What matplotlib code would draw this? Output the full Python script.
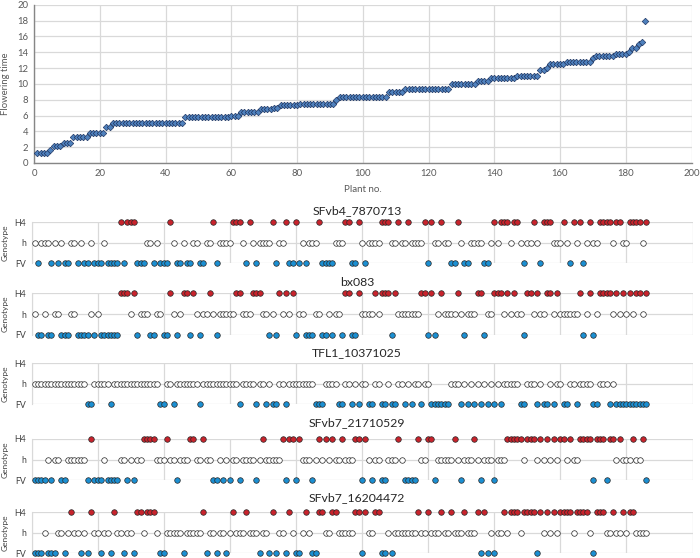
import matplotlib
matplotlib.use('Agg')
import matplotlib.pyplot as plt
import numpy as np

plt.rcParams['font.family'] = ['Lato', 'DejaVu Sans']

# ---------------- data ----------------
flowering_time = [
    1.3, 1.3, 1.3, 1.3, 1.7, 2.1, 2.1, 2.1, 2.5, 2.5,
    2.5, 3.3, 3.3, 3.3, 3.3, 3.3, 3.8, 3.8, 3.8, 3.8,
    3.8, 4.5, 4.5, 5.0, 5.0, 5.0, 5.0, 5.0, 5.0, 5.0,
    5.0, 5.0, 5.0, 5.0, 5.0, 5.0, 5.0, 5.0, 5.0, 5.0,
    5.0, 5.0, 5.0, 5.0, 5.0, 5.8, 5.8, 5.8, 5.8, 5.8,
    5.8, 5.8, 5.8, 5.8, 5.8, 5.8, 5.8, 5.8, 5.8, 6.0,
    6.0, 6.0, 6.5, 6.5, 6.5, 6.5, 6.5, 6.5, 6.8, 6.8,
    6.8, 6.8, 7.0, 7.0, 7.3, 7.3, 7.3, 7.3, 7.3, 7.3,
    7.5, 7.5, 7.5, 7.5, 7.5, 7.5, 7.5, 7.5, 7.5, 7.5,
    7.5, 8.0, 8.3, 8.3, 8.3, 8.3, 8.3, 8.3, 8.3, 8.3,
    8.3, 8.3, 8.3, 8.3, 8.3, 8.3, 8.3, 9.0, 9.0, 9.0,
    9.0, 9.0, 9.3, 9.3, 9.3, 9.3, 9.3, 9.3, 9.3, 9.3,
    9.3, 9.3, 9.3, 9.3, 9.3, 9.4, 10.0, 10.0, 10.0, 10.0,
    10.0, 10.0, 10.0, 10.0, 10.3, 10.3, 10.3, 10.3, 10.7, 10.7,
    10.7, 10.7, 10.7, 10.8, 10.8, 10.8, 11.0, 11.0, 11.0, 11.0,
    11.0, 11.0, 11.0, 11.8, 11.8, 12.0, 12.5, 12.5, 12.5, 12.5,
    12.5, 12.8, 12.8, 12.8, 12.8, 12.8, 12.8, 12.8, 12.8, 13.3,
    13.5, 13.5, 13.5, 13.5, 13.5, 13.5, 13.8, 13.8, 13.8, 13.8,
    14.0, 14.5, 14.5, 15.0, 15.3, 18.0,
]

marker_names = ['SFvb4_7870713', 'bx083', 'TFL1_10371025',
                'SFvb7_21710529', 'SFvb7_16204472']
genotype_labels = ['FV', 'h', 'H4']

# plants (1-based) carrying H4 / FV genotype; all other plants are h
sfvb4_h4 = [27, 29, 30, 31, 42, 55, 61, 62, 63, 66, 73, 77, 80, 87, 95, 96, 99,
            106, 107, 108, 111, 114, 119, 121, 124, 129, 140, 142, 143, 144,
            146, 147, 152, 155, 156, 157, 161, 164, 166, 169, 172, 173, 174,
            175, 177, 178, 181, 182, 183, 184, 186]
sfvb4_fv = [2, 6, 8, 10, 11, 14, 16, 17, 19, 20, 21, 23, 24, 25, 26, 28, 32,
            33, 34, 37, 39, 40, 41, 44, 45, 47, 48, 51, 52, 56, 65, 68, 74, 78,
            79, 81, 83, 88, 89, 90, 91, 97, 98, 101, 120, 127, 128, 131, 132,
            137, 138, 149, 154, 163, 167]

bx083_h4 = [27, 28, 29, 31, 42, 46, 47, 49, 54, 62, 63, 67, 68, 69, 75, 77, 79,
            95, 96, 99, 104, 106, 107, 108, 110, 118, 119, 121, 124, 129, 135,
            136, 140, 141, 142, 144, 146, 150, 151, 153, 156, 157, 159, 166,
            169, 172, 173, 174, 175, 177, 179, 181, 183, 184, 186]
bx083_fv = [2, 3, 5, 6, 9, 10, 11, 14, 15, 16, 17, 19, 21, 22, 23, 24, 25, 26,
            32, 36, 37, 40, 41, 44, 48, 51, 56, 72, 74, 80, 83, 84, 85, 88, 89,
            91, 94, 97, 98, 109, 120, 122, 131, 137, 149, 167, 170]

tfl1_h4 = []
tfl1_fv = [17, 18, 24, 39, 40, 43, 51, 63, 68, 71, 73, 74, 77, 86, 87, 88, 93,
           94, 97, 99, 102, 103, 106, 107, 109, 110, 113, 115, 118, 121, 122,
           123, 124, 125, 126, 130, 132, 134, 136, 138, 140, 142, 148, 149,
           153, 155, 156, 158, 161, 162, 165, 170, 171, 175, 177, 178, 179,
           180, 181, 182, 183, 184, 185, 186]

sfvb7a_h4 = [18, 34, 35, 36, 37, 41, 48, 49, 52, 70, 76, 78, 79, 81, 87, 89,
             91, 94, 98, 99, 101, 111, 117, 120, 121, 128, 134, 144, 145, 146,
             147, 148, 150, 151, 152, 154, 156, 158, 160, 161, 163, 166, 167,
             168, 169, 171, 172, 173, 175, 176, 178, 182, 185]
sfvb7a_fv = [1, 2, 3, 4, 6, 9, 10, 17, 19, 20, 21, 23, 24, 25, 26, 29, 31, 44,
             55, 56, 58, 60, 63, 68, 77, 80, 85, 100, 103, 106, 107, 113, 114,
             115, 116, 122, 130, 136, 140, 170, 174, 186]

sfvb7b_h4 = [12, 18, 25, 32, 33, 35, 36, 37, 52, 61, 65, 73, 78, 83, 87, 88,
             91, 92, 98, 99, 101, 104, 105, 117, 120, 124, 127, 131, 135, 137,
             143, 145, 146, 147, 149, 150, 151, 152, 154, 156, 158, 160, 161,
             162, 163, 165, 166, 167, 168, 171, 172, 173, 176, 179, 181, 182]
sfvb7b_fv = [1, 2, 3, 5, 6, 7, 10, 15, 17, 21, 24, 28, 31, 39, 40, 46, 53, 56,
             59, 69, 72, 74, 77, 80, 81, 85, 86, 100, 106, 107, 109, 136, 138,
             140, 153, 170]

h4_lists = [sfvb4_h4, bx083_h4, tfl1_h4, sfvb7a_h4, sfvb7b_h4]
fv_lists = [sfvb4_fv, bx083_fv, tfl1_fv, sfvb7a_fv, sfvb7b_fv]

# ---------------- figure ----------------
W, H = 700, 558
fig = plt.figure(figsize=(W / 100, H / 100), dpi=100)


def ax_px(l, t, r, b):
    return fig.add_axes([l / W, 1 - b / H, (r - l) / W, (b - t) / H])


n_plants = len(flowering_time)
plants = np.arange(1, n_plants + 1)

grid_c = '#d9d9d9'
txt_c = '#595959'

# top scatter
ax = ax_px(34, 4.7, 691.5, 163)
ax.plot(plants, flowering_time, ls='none', marker='D', ms=3.3,
        mfc='#4f81bd', mec='#203864', mew=0.5, clip_on=False, zorder=3)
ax.set_xlim(0, 200)
ax.set_ylim(0, 20)
ax.set_xticks(range(0, 201, 20))
ax.set_yticks(range(0, 21, 2))
ax.grid(color=grid_c, lw=0.9)
ax.set_axisbelow(True)
for s in ['top', 'right']:
    ax.spines[s].set_visible(False)
for s in ['left', 'bottom']:
    ax.spines[s].set_color('#868686')
    ax.spines[s].set_linewidth(1.0)
ax.tick_params(length=0, labelsize=6.8, colors=txt_c, pad=4)
ax.set_xlabel('Plant no.', fontsize=7, color=txt_c, labelpad=5)
ax.set_ylabel('Flowering time', fontsize=6.8, color=txt_c, labelpad=5)

# genotype panels: (H4 line y, FV line y, title y) in pixels
panel_px = [(222, 263.3, 210.5), (293.3, 335, 282.5), (363.3, 404.3, 353),
            (439, 480, 423), (512.3, 553.3, 498)]

red = '#c8232c'
blue = '#1b8fd2'

for i, (top, bot, ty) in enumerate(panel_px):
    a = ax_px(31.5, top, 692.5, bot)
    h4 = h4_lists[i]
    fv = fv_lists[i]
    hh = [p for p in plants if p not in h4 and p not in fv]
    a.set_xlim(0, 200)
    a.set_ylim(0, 2)
    a.set_xticks(range(0, 201, 20))
    a.set_yticks([0, 1, 2])
    a.set_yticklabels(genotype_labels)
    a.set_xticklabels([])
    a.grid(color=grid_c, lw=0.9)
    a.set_axisbelow(True)
    for s in ['top', 'right', 'bottom']:
        a.spines[s].set_visible(False)
    a.spines['left'].set_color(grid_c)
    a.tick_params(length=0, labelsize=6.3, colors='#404040', pad=4)
    kw = dict(ls='none', marker='o', ms=4.0, mec='#262626', mew=0.5,
              clip_on=False, zorder=3)
    if h4:
        a.plot(h4, [2] * len(h4), mfc=red, **kw)
    a.plot(hh, [1] * len(hh), mfc='white', **kw)
    a.plot(fv, [0] * len(fv), mfc=blue, **kw)
    a.set_ylabel('Genotype', fontsize=6, color='#404040', labelpad=4)
    fig.text(357 / W, 1 - ty / H, marker_names[i], fontsize=8.8,
             color='#262626', ha='center', va='center')

fig.savefig('out.png', dpi=100)
